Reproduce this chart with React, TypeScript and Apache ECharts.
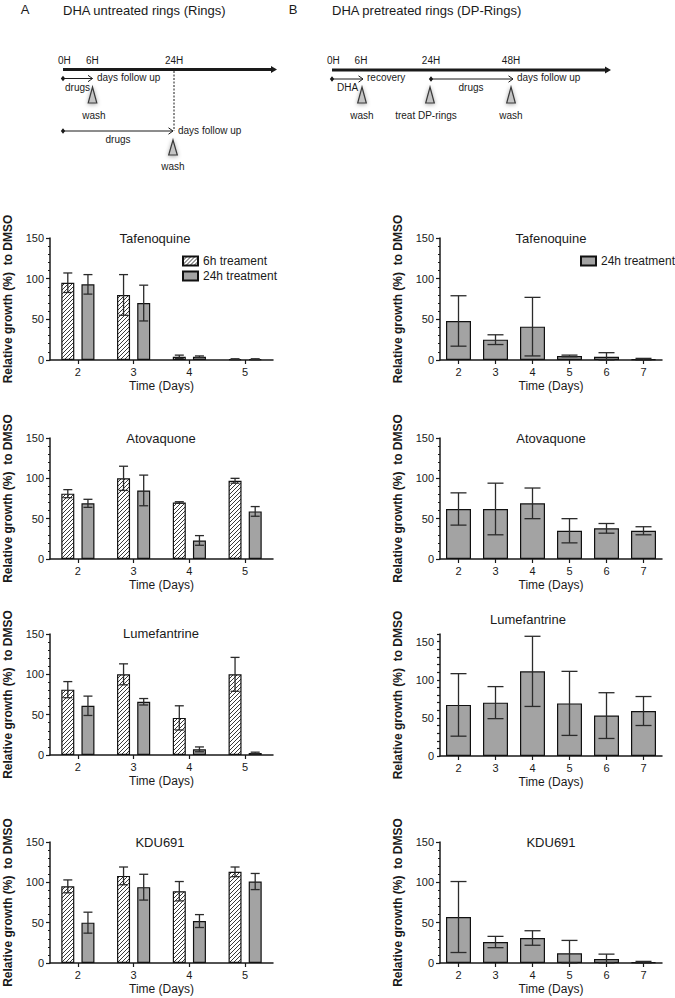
import React, { useEffect, useRef } from 'react';
import * as echarts from 'echarts';

// ---------- categories ----------
const daysA = ['2', '3', '4', '5'];
const daysB = ['2', '3', '4', '5', '6', '7'];
const yLabelTicks = [0, 50, 100, 150];

// ---------- A: DHA untreated rings (mean, SD) ----------
const tafenoquineA6h = [95, 80, 4, 1];
const tafenoquineA6hSD = [12, 25, 2, 0.5];
const tafenoquineA24h = [93, 70, 4, 1];
const tafenoquineA24hSD = [12, 22, 1, 0.5];

const atovaquoneA6h = [81, 100, 70, 97];
const atovaquoneA6hSD = [5, 15, 1, 3];
const atovaquoneA24h = [69, 85, 23, 59];
const atovaquoneA24hSD = [5, 19, 6, 6];

const lumefantrineA6h = [81, 100, 46, 100];
const lumefantrineA6hSD = [10, 13, 15, 21];
const lumefantrineA24h = [61, 66, 7, 2.5];
const lumefantrineA24hSD = [12, 4, 3, 1];

const kdu691A6h = [95, 108, 89, 113];
const kdu691A6hSD = [8, 11, 12, 6];
const kdu691A24h = [50, 94, 52, 101];
const kdu691A24hSD = [13, 16, 8, 10];

// ---------- B: DHA pretreated rings (mean, SD) ----------
const tafenoquineB = [48, 25, 41, 5, 4, 1];
const tafenoquineBSD = [31, 6, 36, 1, 5, 1];
const atovaquoneB = [62, 62, 69, 35, 38, 35];
const atovaquoneBSD = [20, 32, 19, 15, 6, 5];
const lumefantrineB = [67, 70, 111, 69, 53, 59];
const lumefantrineBSD = [41, 21, 46, 42, 30, 19];
const kdu691B = [57, 26, 31, 12, 5, 1];
const kdu691BSD = [44, 7, 9, 16, 6, 1];

const NAME_6H = '6h treament';
const NAME_24H = '24h treatment';

const FONT = '"Liberation Sans", Arial, Helvetica, sans-serif';
const GRAY = '#a3a3a3';
const INK = '#1a1a1a';

type Panel = {
  side: 'A' | 'B';
  title: string;
  top: number;
  height: number;
  max: number;
  titleX: number;
  titleY: number;
  a6h?: number[];
  a6hSD?: number[];
  vals: number[];
  sd: number[];
};

const panels: Panel[] = [
  { side: 'A', title: 'Tafenoquine', top: 238, height: 122, max: 150, titleX: 155, titleY: 238, a6h: tafenoquineA6h, a6hSD: tafenoquineA6hSD, vals: tafenoquineA24h, sd: tafenoquineA24hSD },
  { side: 'B', title: 'Tafenoquine', top: 238, height: 122, max: 150, titleX: 551, titleY: 238, vals: tafenoquineB, sd: tafenoquineBSD },
  { side: 'A', title: 'Atovaquone', top: 438, height: 121, max: 150, titleX: 161, titleY: 438, a6h: atovaquoneA6h, a6hSD: atovaquoneA6hSD, vals: atovaquoneA24h, sd: atovaquoneA24hSD },
  { side: 'B', title: 'Atovaquone', top: 438, height: 121, max: 150, titleX: 551, titleY: 438, vals: atovaquoneB, sd: atovaquoneBSD },
  { side: 'A', title: 'Lumefantrine', top: 634, height: 121, max: 150, titleX: 161, titleY: 633, a6h: lumefantrineA6h, a6hSD: lumefantrineA6hSD, vals: lumefantrineA24h, sd: lumefantrineA24hSD },
  { side: 'B', title: 'Lumefantrine', top: 634, height: 122, max: 160, titleX: 528, titleY: 619, vals: lumefantrineB, sd: lumefantrineBSD },
  { side: 'A', title: 'KDU691', top: 842, height: 121, max: 150, titleX: 160, titleY: 842, a6h: kdu691A6h, a6hSD: kdu691A6hSD, vals: kdu691A24h, sd: kdu691A24hSD },
  { side: 'B', title: 'KDU691', top: 842, height: 121, max: 150, titleX: 551, titleY: 842, vals: kdu691B, sd: kdu691BSD },
];

function errorSeries(vals: number[], sd: number[], gi: number, offset: number, capHalf: number) {
  return {
    type: 'custom',
    xAxisIndex: gi,
    yAxisIndex: gi,
    silent: true,
    z: 5,
    data: vals.map((v, i) => [i, v, sd[i]]),
    encode: { x: 0, y: 1 },
    renderItem: (params: any, api: any) => {
      const i = api.value(0);
      const m = api.value(1);
      const s = api.value(2);
      const pTop = api.coord([i, m + s]);
      const pBot = api.coord([i, Math.max(0, m - s)]);
      const x = pTop[0] + offset;
      const st = { stroke: '#2b2b2b', lineWidth: 1.3 };
      return {
        type: 'group',
        children: [
          { type: 'line', shape: { x1: x, y1: pTop[1], x2: x, y2: pBot[1] }, style: st },
          { type: 'line', shape: { x1: x - capHalf, y1: pTop[1], x2: x + capHalf, y2: pTop[1] }, style: st },
          { type: 'line', shape: { x1: x - capHalf, y1: pBot[1], x2: x + capHalf, y2: pBot[1] }, style: st },
        ],
      };
    },
  };
}

function txt(text: string, x: number, y: number, size: number, align: string = 'left', extra: any = {}) {
  return {
    type: 'text',
    x,
    y,
    silent: true,
    style: { text, fontSize: size, fontFamily: FONT, fill: INK, align, verticalAlign: 'middle', ...extra },
  };
}
function ln(x1: number, y1: number, x2: number, y2: number, w = 1, dash?: number[]) {
  return { type: 'line', silent: true, shape: { x1, y1, x2, y2 }, style: { stroke: INK, lineWidth: w, lineDash: dash } };
}
function diamond(x: number, y: number) {
  return { type: 'polygon', silent: true, shape: { points: [[x - 2.2, y], [x, y - 2.8], [x + 2.2, y], [x, y + 2.8]] }, style: { fill: INK } };
}
function openHead(x: number, y: number) {
  return { type: 'polyline', silent: true, shape: { points: [[x - 4.5, y - 3.2], [x, y], [x - 4.5, y + 3.2]] }, style: { stroke: INK, lineWidth: 1, fill: 'none' } };
}
function thinArrow(x1: number, x2: number, y: number) {
  return [diamond(x1, y), ln(x1, y, x2, y, 1), openHead(x2, y)];
}
function thickArrow(x1: number, x2: number, y: number) {
  return [
    ln(x1, y, x2 - 3, y, 3),
    { type: 'polygon', silent: true, shape: { points: [[x2 - 6, y - 3.5], [x2, y], [x2 - 6, y + 3.5]] }, style: { fill: INK } },
  ];
}
function tri(cx: number, yTop: number, yBot: number) {
  return {
    type: 'polygon',
    silent: true,
    shape: { points: [[cx, yTop], [cx + 4.3, yBot], [cx - 4.3, yBot]] },
    style: { fill: '#c4c4c4', stroke: '#3a3a3a', lineWidth: 1.2, shadowBlur: 4, shadowColor: 'rgba(0,0,0,0.35)', shadowOffsetY: 1 },
  };
}

export default function App() {
  const ref = useRef<HTMLDivElement>(null);

  useEffect(() => {
    document.body.style.margin = '0';
    const chart = echarts.init(ref.current!, null, { renderer: 'svg' });

    const cv = document.createElement('canvas');
    cv.width = 4;
    cv.height = 4;
    const ctx = cv.getContext('2d')!;
    ctx.fillStyle = '#ffffff';
    ctx.fillRect(0, 0, 4, 4);
    ctx.strokeStyle = '#3a3a3a';
    ctx.lineWidth = 1;
    ctx.beginPath();
    ctx.moveTo(0, 4);
    ctx.lineTo(4, 0);
    ctx.moveTo(-1, 1);
    ctx.lineTo(1, -1);
    ctx.moveTo(3, 5);
    ctx.lineTo(5, 3);
    ctx.stroke();
    const hatch: any = { image: cv, repeat: 'repeat', imageWidth: 4, imageHeight: 4 };

    const grids: any[] = [];
    const xAxes: any[] = [];
    const yAxes: any[] = [];
    const series: any[] = [];

    const axisLineStyle = { color: INK, width: 1.5 };

    panels.forEach((p, gi) => {
      const isA = p.side === 'A';
      grids.push({ left: isA ? 50 : 440, width: isA ? 223 : 222, top: p.top, height: p.height, containLabel: false });
      xAxes.push({
        type: 'category',
        gridIndex: gi,
        data: isA ? daysA : daysB,
        axisLine: { lineStyle: axisLineStyle },
        axisTick: { show: true, alignWithLabel: true, length: 4, lineStyle: { color: INK, width: 1.2 } },
        axisLabel: { fontSize: 11, color: INK, margin: 6, fontFamily: FONT },
        name: 'Time (Days)',
        nameLocation: 'middle',
        nameGap: 20,
        nameTextStyle: { fontSize: 12, color: INK, fontFamily: FONT },
      });
      const tall = p.max !== 150;
      yAxes.push({
        type: 'value',
        gridIndex: gi,
        min: 0,
        max: p.max,
        interval: tall ? 10 : 50,
        splitLine: { show: false },
        axisLine: { show: true, lineStyle: axisLineStyle },
        axisTick: { show: true, length: tall ? 3 : 4, lineStyle: { color: INK, width: 1.2 } },
        minorTick: { show: !tall, splitNumber: 5, length: 2, lineStyle: { color: INK, width: 1 } },
        axisLabel: {
          fontSize: 11,
          color: INK,
          margin: 6,
          fontFamily: FONT,
          formatter: (v: number) => (yLabelTicks.indexOf(v) >= 0 ? String(v) : ''),
        },
        name: 'Relative growth (%)  to DMSO',
        nameLocation: 'middle',
        nameGap: 36,
        nameTextStyle: { fontSize: 12, fontWeight: 'bold', color: INK, fontFamily: FONT },
      });

      if (isA) {
        const bw = 13;
        const off = (bw + bw * 0.55) / 2;
        series.push({
          type: 'bar',
          name: NAME_6H,
          xAxisIndex: gi,
          yAxisIndex: gi,
          data: p.a6h,
          barWidth: bw,
          barGap: '55%',
          itemStyle: { color: hatch, borderColor: '#111', borderWidth: 1.2 },
        });
        series.push({
          type: 'bar',
          name: NAME_24H,
          xAxisIndex: gi,
          yAxisIndex: gi,
          data: p.vals,
          barWidth: bw,
          barGap: '55%',
          itemStyle: { color: GRAY, borderColor: '#111', borderWidth: 1.2 },
        });
        series.push(errorSeries(p.a6h!, p.a6hSD!, gi, -off, 4.5));
        series.push(errorSeries(p.vals, p.sd, gi, off, 4.5));
      } else {
        series.push({
          type: 'bar',
          name: NAME_24H,
          xAxisIndex: gi,
          yAxisIndex: gi,
          data: p.vals,
          barWidth: 25,
          itemStyle: { color: GRAY, borderColor: '#111', borderWidth: 1.2 },
        });
        series.push(errorSeries(p.vals, p.sd, gi, 0, 8));
      }
    });

    const graphics: any[] = [];
    // panel titles
    panels.forEach((p) => graphics.push(txt(p.title, p.titleX, p.titleY, 13, 'center')));

    // ---------- schematic A ----------
    graphics.push(txt('A', 25, 9, 13, 'center'));
    graphics.push(txt('DHA untreated rings (Rings)', 63, 10, 13));
    graphics.push(txt('0H', 58, 60, 10));
    graphics.push(txt('6H', 86, 60, 10));
    graphics.push(txt('24H', 165, 60, 10));
    graphics.push(...thickArrow(63, 277, 69.5));
    graphics.push(...thinArrow(63, 92.5, 78.5));
    graphics.push(txt('days follow up', 97, 77, 10));
    graphics.push(txt('drugs', 65, 87.5, 10));
    graphics.push(tri(92.5, 87, 103));
    graphics.push(txt('wash', 94, 115, 10, 'center'));
    graphics.push(ln(174, 71, 174, 131, 1, [2, 1.5]));
    graphics.push(...thinArrow(63, 173, 131));
    graphics.push(txt('days follow up', 178, 130, 10));
    graphics.push(txt('drugs', 118, 139.5, 10, 'center'));
    graphics.push(tri(173, 140, 155));
    graphics.push(txt('wash', 173, 166, 10, 'center'));

    // ---------- schematic B ----------
    graphics.push(txt('B', 293, 9, 13, 'center'));
    graphics.push(txt('DHA pretreated rings (DP-Rings)', 332, 10, 13));
    graphics.push(txt('0H', 327, 60, 10));
    graphics.push(txt('6H', 361, 60, 10, 'center'));
    graphics.push(txt('24H', 431, 60, 10, 'center'));
    graphics.push(txt('48H', 511, 60, 10, 'center'));
    graphics.push(...thickArrow(332, 611, 70));
    graphics.push(...thinArrow(332, 363, 79));
    graphics.push(txt('recovery', 367, 77, 10));
    graphics.push(txt('DHA', 337, 87.5, 10));
    graphics.push(tri(362, 87, 103));
    graphics.push(txt('wash', 362, 115, 10, 'center'));
    graphics.push(...thinArrow(431, 513, 79));
    graphics.push(txt('drugs', 471, 87.5, 10, 'center'));
    graphics.push(tri(430, 87, 103));
    graphics.push(txt('treat DP-rings', 426, 115, 10, 'center'));
    graphics.push(txt('days follow up', 517, 77, 10));
    graphics.push(tri(511, 87, 103));
    graphics.push(txt('wash', 511, 115, 10, 'center'));

    const legendCommon = {
      orient: 'vertical',
      icon: 'rect',
      itemWidth: 15,
      itemHeight: 9,
      itemGap: 3,
      selectedMode: false,
      textStyle: { fontSize: 12, color: INK, fontFamily: FONT },
    };

    chart.setOption({
      animation: false,
      backgroundColor: '#ffffff',
      textStyle: { fontFamily: FONT },
      grid: grids,
      xAxis: xAxes,
      yAxis: yAxes,
      legend: [
        { ...legendCommon, data: [NAME_6H, NAME_24H], left: 177, top: 250 },
        { ...legendCommon, data: [NAME_24H], left: 575, top: 250 },
      ],
      series,
      graphic: { elements: graphics },
    });

    return () => chart.dispose();
  }, []);

  return <div ref={ref} style={{ position: 'absolute', left: 0, top: 0, width: 675, height: 998 }} />;
}
